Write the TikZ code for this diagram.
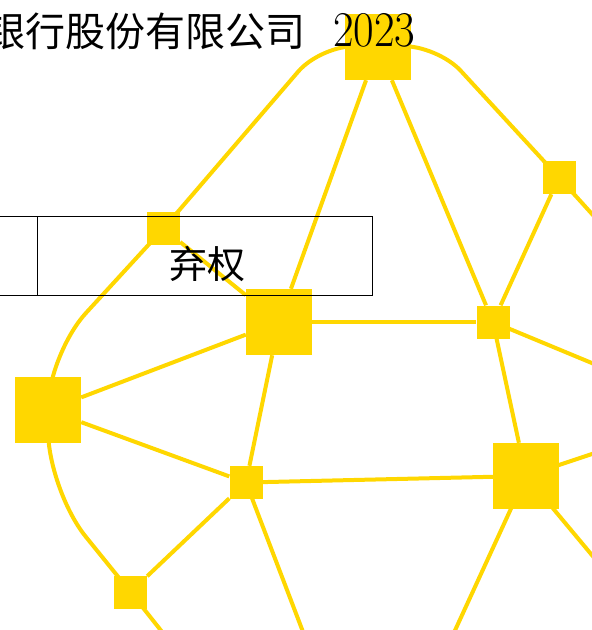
\documentclass[tikz,border=0pt]{standalone}
\usepackage{fontspec}
\usepackage{graphicx}
\newfontfamily\cjk{Noto Sans CJK SC}
\definecolor{gold}{RGB}{255,215,0}
\pgfdeclarelayer{bg}
\pgfsetlayers{bg,main}
\tikzset{
  big/.style={rectangle, fill=gold, inner sep=0pt, minimum size=66pt},
  small/.style={rectangle, fill=gold, inner sep=0pt, minimum size=33pt},
  link/.style={draw=gold, line width=4pt},
  cell/.style={rectangle, draw=black, line width=1.4pt, inner sep=0pt, minimum height=79.2pt},
  txt/.style={inner sep=0pt, font=\fontsize{38}{40}\selectfont},
  headtxt/.style={inner sep=0pt, font=\fontsize{40}{42}\selectfont}
}
\begin{document}
\begin{tikzpicture}[x=1pt, y=-1pt]
\useasboundingbox (0,0) rectangle (592,630);
\clip (0,0) rectangle (592,630);
% nodes
\node[big]   (top) at (378,47) {};
\node[small] (a)   at (163.5,228.5) {};
\node[big]   (b)   at (279,322) {};
\node[small] (c)   at (559,177.5) {};
\node[small] (d)   at (493,322) {};
\node[big]   (e)   at (526,476) {};
\node[big]   (f)   at (48,410) {};
\node[small] (g)   at (246,482.5) {};
\node[small] (h)   at (130.5,592) {};
% free ends beyond the frame
\coordinate (cout)  at (620,245);
\coordinate (dout)  at (640,383);
\coordinate (eout1) at (640,438);
\coordinate (eout2) at (626,596);
\coordinate (eout3) at (423,700);
\coordinate (gout)  at (329,700);
\coordinate (hout)  at (216,700);
\begin{pgfonlayer}{bg}
\draw[link, rounded corners=35pt] (top.center) -- (321,45) -- (a.center);
\draw[link, rounded corners=35pt] (top.center) -- (437,45) -- (c.center);
\draw[link, rounded corners=50pt] (a.center) -- (52,350) -- (f.center);
\draw[link, rounded corners=60pt] (f.center) -- (48,490) -- (h.center);
\draw[link] (top) -- (b);
\draw[link] (top) -- (d);
\draw[link] (c) -- (d);
\draw[link] (c.center) -- (cout);
\draw[link] (a) -- (b);
\draw[link] (b) -- (d);
\draw[link] (b) -- (f);
\draw[link] (b) -- (g);
\draw[link] (d) -- (e);
\draw[link] (d.center) -- (dout);
\draw[link] (e) -- (g);
\draw[link] (e.center) -- (eout1);
\draw[link] (e.center) -- (eout2);
\draw[link] (e.center) -- (eout3);
\draw[link] (f) -- (g);
\draw[link] (g) -- (h);
\draw[link] (g.center) -- (gout);
\draw[link] (h.center) -- (hout);
\end{pgfonlayer}
% table
\node[cell, minimum width=47.7pt] (cell1) at (13.85,256.1) {};
\node[cell, minimum width=335pt]  (cell2) at (205.2,256.1) {};
\node[txt] (vote) at (207,264) {\cjk 弃权};
% title
\node[headtxt, anchor=base west] (title) at (-15,46) {{\cjk 银行股份有限公司}\hspace{28pt}\scalebox{1.12}[1.25]{2023}};
\end{tikzpicture}
\end{document}
